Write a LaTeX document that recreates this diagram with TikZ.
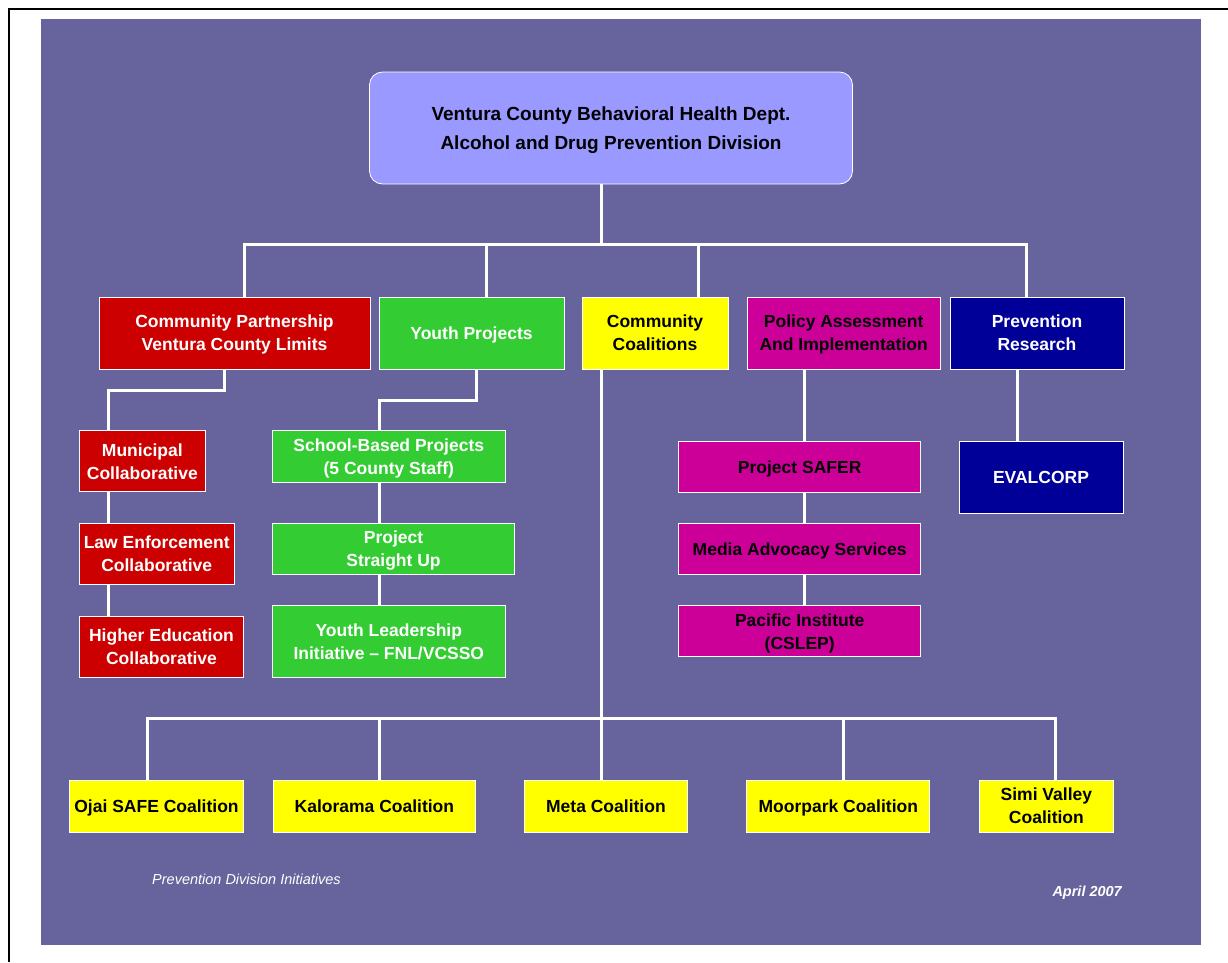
\documentclass[tikz,border=0pt]{standalone}
\usepackage{fontspec}
\setmainfont{Liberation Sans}
\usepackage{xcolor}
\usetikzlibrary{calc}

\definecolor{bgpurple}{RGB}{103,99,156}
\definecolor{toplav}{RGB}{153,153,255}
\definecolor{vcred}{RGB}{204,0,0}
\definecolor{vcgreen}{RGB}{51,204,51}
\definecolor{vcyellow}{RGB}{255,255,0}
\definecolor{vcpink}{RGB}{204,0,153}
\definecolor{vcnavy}{RGB}{0,0,153}

\begin{document}
\begin{tikzpicture}[x=1pt, y=-1pt,
		box/.style = {draw=white, line width=0.8pt, align=center, inner sep=0pt, outer sep=0pt, text depth=0pt, font=\bfseries\fontsize{17.5}{23}\selectfont},
		topbox/.style = {box, fill=toplav, text=black, rounded corners=13pt, font=\bfseries\fontsize{19}{29.5}\selectfont},
		redbox/.style = {box, fill=vcred, text=white},
		greenbox/.style = {box, fill=vcgreen, text=white},
		yellowbox/.style = {box, fill=vcyellow, text=black},
		pinkbox/.style = {box, fill=vcpink, text=black},
		navybox/.style = {box, fill=vcnavy, text=white},
		wire/.style = {draw=white, line width=3pt}]
		\useasboundingbox (0,0) rectangle (1228,962);
		\draw[black, line width=2pt] (9,962) -- (9,9) -- (1228,9);
		\fill[bgpurple] (41,19) rectangle (1201,945);

		\node[topbox, minimum width=483, minimum height=112] (top) at (611,128) {Ventura County Behavioral Health Dept.\\Alcohol and Drug Prevention Division};

		\node[redbox, minimum width=271, minimum height=72] (cp) at (234.5,333) {Community Partnership\\Ventura County Limits};
		\node[greenbox, minimum width=185, minimum height=72] (yp) at (471.5,333) {Youth Projects};
		\node[yellowbox, minimum width=146, minimum height=72] (cc) at (655,333) {Community\\Coalitions};
		\node[pinkbox, minimum width=193.5, minimum height=72] (pa) at (843.7,333) {Policy Assessment\\And Implementation};
		\node[navybox, minimum width=174, minimum height=72] (pr) at (1037,333) {Prevention\\Research};

		\node[redbox, minimum width=126, minimum height=61] (mun) at (142.3,461.3) {Municipal\\Collaborative};
		\node[redbox, minimum width=154.7, minimum height=61.7] (law) at (156.7,554) {Law Enforcement\\Collaborative};
		\node[redbox, minimum width=164.4, minimum height=61.3] (high) at (161.5,646.7) {Higher Education\\Collaborative};

		\node[greenbox, minimum width=232.3, minimum height=51.6] (school) at (388.8,456.5) {School-Based Projects\\(5 County Staff)};
		\node[greenbox, minimum width=241.6, minimum height=51.4] (straight) at (393.5,549) {Project\\Straight Up};
		\node[greenbox, minimum width=232.3, minimum height=71.6] (lead) at (388.8,641.5) {Youth Leadership\\Initiative -- FNL/VCSSO};

		\node[pinkbox, minimum width=242, minimum height=51.3] (safer) at (799.7,466.7) {Project SAFER};
		\node[pinkbox, minimum width=242, minimum height=51] (media) at (799.7,548.8) {Media Advocacy Services};
		\node[pinkbox, minimum width=242, minimum height=51] (pacific) at (799.7,631.2) {Pacific Institute\\(CSLEP)};

		\node[navybox, minimum width=164, minimum height=72] (eval) at (1041,477) {EVALCORP};

		\node[yellowbox, minimum width=174, minimum height=52] (ojai) at (156.5,806) {Ojai SAFE Coalition};
		\node[yellowbox, minimum width=202.8, minimum height=52] (kal) at (374.4,806) {Kalorama Coalition};
		\node[yellowbox, minimum width=163.7, minimum height=52] (meta) at (605.9,806) {Meta Coalition};
		\node[yellowbox, minimum width=183, minimum height=52] (moor) at (838.3,806) {Moorpark Coalition};
		\node[yellowbox, minimum width=134.7, minimum height=52] (simi) at (1046.4,806) {Simi Valley\\Coalition};

		\node[text=white, anchor=base west, inner sep=0pt, font=\itshape\fontsize{14.5}{17}\selectfont] (note) at (152,884) {Prevention Division Initiatives};
		\node[text=white, anchor=base east, inner sep=0pt, font=\bfseries\itshape\fontsize{14.5}{17}\selectfont] (date) at (1122,896) {April 2007};

		\coordinate (tophub) at (601,244.5);
		\coordinate (cchub) at (601,718);

		\draw[wire] ([xshift=-10]top.south) -- (tophub);
		\draw[wire] ([xshift=9.5]cp.north) |- (tophub);
		\draw[wire] ([xshift=14.5]yp.north) |- (tophub);
		\draw[wire] ([xshift=43]cc.north) |- (tophub);
		\draw[wire] ([xshift=-11]pr.north) |- (tophub);

		\draw[wire] ([xshift=-10.5]cp.south) -- ++(0,21) -| ([xshift=-34]mun.north);
		\draw[wire] ([xshift=-34]mun.south) -- ([xshift=-48.4]law.north);
		\draw[wire] ([xshift=-48.4]law.south) -- ([xshift=-53.2]high.north);

		\draw[wire] ([xshift=4.5]yp.south) -- ++(0,31) -| ([xshift=-9.8]school.north);
		\draw[wire] ([xshift=-9.8]school.south) -- ([xshift=-14.5]straight.north);
		\draw[wire] ([xshift=-14.5]straight.south) -- ([xshift=-9.8]lead.north);

		\draw[wire] ([xshift=-39.4]pa.south) -- ([xshift=4.6]safer.north);
		\draw[wire] ([xshift=4.6]safer.south) -- ([xshift=4.6]media.north);
		\draw[wire] ([xshift=4.6]media.south) -- ([xshift=4.6]pacific.north);

		\draw[wire] ([xshift=-20]pr.south) -- ([xshift=-24]eval.north);

		\draw[wire] ([xshift=-54]cc.south) -- ([xshift=-4.9]meta.north);
		\draw[wire] ([xshift=-9]ojai.north) |- (cchub);
		\draw[wire] ([xshift=4.6]kal.north) |- (cchub);
		\draw[wire] ([xshift=5.2]moor.north) |- (cchub);
		\draw[wire] ([xshift=9]simi.north) |- (cchub);
\end{tikzpicture}
\end{document}
